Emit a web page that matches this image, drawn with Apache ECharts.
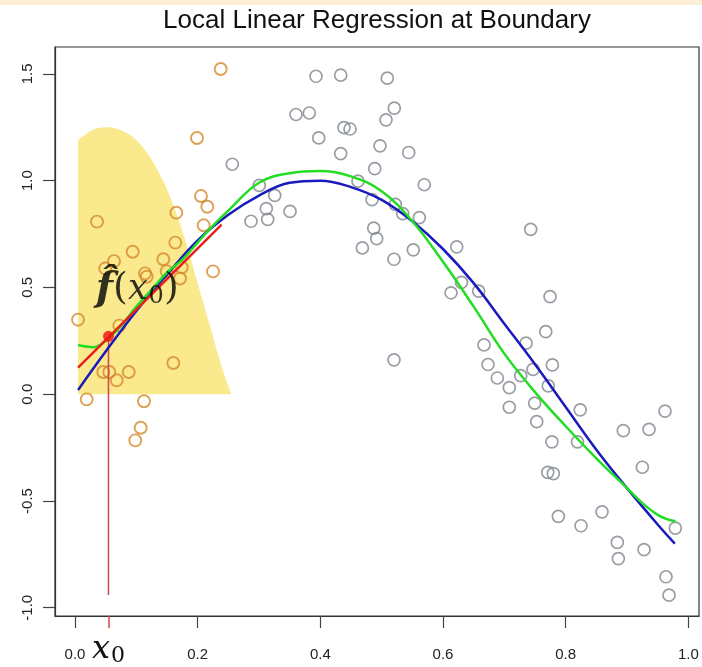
<!DOCTYPE html>
<html>
<head>
<meta charset="utf-8">
<title>Local Linear Regression at Boundary</title>
<script src="https://cdn.jsdelivr.net/npm/echarts@6/dist/echarts.min.js"></script>
<style>
html, body {margin: 0; padding: 0; background: #fff;}
#main {width: 702px; height: 667px;}
</style>
</head>
<body>
<div id="main"></div>
<script>
// points inside the kernel window (orange)
var windowX = [0.2376, 0.1989, 0.2054, 0.2157, 0.1652, 0.0359, 0.2098, 0.1635, 0.0941, 0.1440,
    0.0494, 0.0636, 0.1141, 0.1169, 0.1495, 0.1740, 0.1712, 0.2250, 0.0049, 0.0722,
    0.1603, 0.0461, 0.0559, 0.0680, 0.0876, 0.0191, 0.1125, 0.1071, 0.0983];
var windowY = [1.523, 1.200, 0.928, 0.878, 0.850, 0.808, 0.791, 0.710, 0.667, 0.632,
    0.589, 0.623, 0.566, 0.550, 0.575, 0.594, 0.542, 0.575, 0.349, 0.321,
    0.146, 0.104, 0.104, 0.065, 0.104, -0.024, -0.033, -0.157, -0.216];

// the rest of the sample (grey)
var otherX = [0.3930, 0.4332, 0.5092, 0.3603, 0.3820, 0.5206, 0.5071, 0.4386, 0.4484, 0.3974,
    0.4973, 0.4332, 0.5441, 0.2565, 0.4887, 0.5695, 0.3005, 0.4614, 0.3256, 0.3119,
    0.3142, 0.2870, 0.3506, 0.4843, 0.5223, 0.5343, 0.5614, 0.4871, 0.4919, 0.4685,
    0.5516, 0.5201, 0.7430, 0.6224, 0.6302, 0.6131, 0.6582, 0.7745, 0.7675, 0.6669,
    0.7354, 0.6734, 0.7468, 0.7783, 0.6886, 0.7267, 0.7081, 0.7717, 0.5201, 0.7081,
    0.7495, 0.8237, 0.9620, 0.7528, 0.8940, 0.9359, 0.7776, 0.8193, 0.9250, 0.7708,
    0.7799, 0.7881, 0.8250, 0.8593, 0.8842, 0.8859, 0.9278, 0.9788, 0.9636, 0.9685];
var otherY = [1.489, 1.494, 1.480, 1.310, 1.317, 1.340, 1.285, 1.248, 1.242, 1.200,
    1.163, 1.127, 1.132, 1.077, 1.056, 0.981, 0.978, 0.998, 0.931, 0.869,
    0.819, 0.810, 0.856, 0.911, 0.889, 0.846, 0.827, 0.778, 0.729, 0.685,
    0.676, 0.632, 0.772, 0.690, 0.524, 0.475, 0.483, 0.457, 0.293, 0.231,
    0.239, 0.139, 0.116, 0.137, 0.076, 0.087, 0.031, 0.039, 0.161, -0.061,
    -0.042, -0.073, -0.079, -0.128, -0.171, -0.165, -0.223, -0.223, -0.342, -0.366,
    -0.372, -0.572, -0.616, -0.551, -0.694, -0.770, -0.728, -0.627, -0.855, -0.941];

// true function (blue)
var trueX = [0.005, 0.05, 0.10, 0.15, 0.20, 0.25, 0.30, 0.35, 0.40, 0.45, 0.50,
    0.55, 0.60, 0.65, 0.70, 0.75, 0.80, 0.85, 0.90, 0.95, 0.978];
var trueY = [0.02, 0.20, 0.39, 0.56, 0.72, 0.84, 0.93, 0.99, 1.00, 0.97, 0.91,
    0.81, 0.68, 0.52, 0.33, 0.14, -0.06, -0.26, -0.44, -0.61, -0.70];

// local linear fit over the whole range (green)
var fitX = [0.005, 0.03, 0.05, 0.075, 0.10, 0.125, 0.15, 0.175, 0.20, 0.225, 0.25,
    0.30, 0.35, 0.40, 0.45, 0.50, 0.55, 0.60, 0.65, 0.70, 0.75,
    0.80, 0.85, 0.90, 0.925, 0.95, 0.965, 0.979];
var fitY = [0.23, 0.22, 0.25, 0.32, 0.41, 0.49, 0.57, 0.63, 0.71, 0.79, 0.86,
    0.99, 1.035, 1.045, 1.02, 0.95, 0.81, 0.62, 0.41, 0.19, 0.01,
    -0.15, -0.30, -0.44, -0.51, -0.565, -0.585, -0.595];

// kernel weights (yellow)
var kernelX = [0.005, 0.03, 0.055, 0.08, 0.10, 0.12, 0.14, 0.16, 0.18, 0.20, 0.22, 0.24, 0.255];
var kernelY = [1.19, 1.24, 1.25, 1.23, 1.19, 1.12, 1.02, 0.89, 0.72, 0.52, 0.32, 0.12, 0.0];

// weighted line at x0 (red)
var localLineX = [0.005, 0.239];
var localLineY = [0.125, 0.794];
var x0 = 0.0546;
var fx0 = 0.271;
var dropY = [0.271, -0.94];

var xTicks = [0, 0.2, 0.4, 0.6, 0.8, 1.0];
var yTicks = [-1.0, -0.5, 0, 0.5, 1.0, 1.5];

var xMin = -0.0326, xMax = 1.0174;
var yMin = -1.0387, yMax = 1.626;

function zip(xs, ys) {
    var out = [];
    for (var i = 0; i < xs.length; i++) {
        out.push([xs[i], ys[i]]);
    }
    return out;
}

var myChart = echarts.init(document.getElementById('main'), null, {renderer: 'canvas'});

var labelFont = 'Liberation Sans, Arial, sans-serif';
var mathFont = 'DejaVu Serif, Liberation Serif, serif';

var option = {
    animation: false,
    backgroundColor: '#fff',
    graphic: [
        {type: 'rect', left: 0, top: 0, shape: {width: 702, height: 5}, style: {fill: '#fcefd6'}},
        {type: 'text', x: 377, y: 21,
            style: {text: 'Local Linear Regression at Boundary', font: '26px ' + labelFont,
                fill: '#111', align: 'center', verticalAlign: 'middle',
                textAlign: 'center', textVerticalAlign: 'middle'}}
    ],
    grid: {left: 55, right: 3, top: 47, bottom: 49, show: true, borderColor: '#333', borderWidth: 1.2},
    xAxis: [
        {
            type: 'value', min: xMin, max: xMax,
            splitLine: {show: false},
            axisLine: {onZero: false, lineStyle: {color: '#333', width: 1.2}},
            axisTick: {customValues: xTicks, length: 12, lineStyle: {color: '#444', width: 1.2}},
            axisLabel: {customValues: xTicks, margin: 31, color: '#222', fontSize: 15, fontFamily: labelFont,
                formatter: function (v) { return v.toFixed(1); }}
        },
        {
            type: 'value', min: xMin, max: xMax, position: 'bottom',
            splitLine: {show: false},
            axisLine: {show: false, onZero: false},
            axisTick: {customValues: [x0], length: 12, lineStyle: {color: '#d04848', width: 1.5}},
            axisLabel: {customValues: [x0], margin: 17, color: '#111',
                formatter: function () { return '{x|x}{s|0}'; },
                rich: {
                    x: {fontFamily: mathFont, fontStyle: 'italic', fontSize: 32, color: '#111'},
                    s: {fontFamily: mathFont, fontSize: 22, color: '#111', padding: [12, 0, 0, 1]}
                }}
        }
    ],
    yAxis: {
        type: 'value', min: yMin, max: yMax,
        splitLine: {show: false},
        axisLine: {onZero: false, lineStyle: {color: '#333', width: 1.2}},
        axisTick: {customValues: yTicks, length: 12, lineStyle: {color: '#444', width: 1.2}},
        axisLabel: {customValues: yTicks, rotate: 90, margin: 20, color: '#222', fontSize: 15, fontFamily: labelFont,
            formatter: function (v) { return v.toFixed(1); }}
    },
    series: [
        {
            // kernel shading
            type: 'line', z: 1, silent: true, symbol: 'none',
            data: zip(kernelX, kernelY),
            smooth: 0.3,
            lineStyle: {width: 0, color: '#fbe98e'},
            areaStyle: {color: '#fbe98e', opacity: 1}
        },
        {
            type: 'scatter', z: 3, silent: true,
            data: zip(otherX, otherY),
            symbol: 'circle', symbolSize: 12,
            itemStyle: {color: 'rgba(0,0,0,0)', borderColor: '#7f868f', borderWidth: 1.7}
        },
        {
            type: 'scatter', z: 3, silent: true,
            data: zip(windowX, windowY),
            symbol: 'circle', symbolSize: 12,
            itemStyle: {color: 'rgba(0,0,0,0)', borderColor: '#d4892e', borderWidth: 1.9}
        },
        {
            // drop line from the fitted value to the axis
            type: 'line', z: 4, silent: true, symbol: 'none',
            data: [[x0, dropY[0]], [x0, dropY[1]]],
            lineStyle: {color: '#d04848', width: 1.5}
        },
        {
            type: 'line', z: 5, silent: true, symbol: 'none',
            data: zip(trueX, trueY), smooth: 0.4,
            lineStyle: {color: '#1a1abf', width: 2.5}
        },
        {
            type: 'line', z: 5, silent: true, symbol: 'none',
            data: zip(fitX, fitY), smooth: 0.4,
            lineStyle: {color: '#22dd22', width: 2.5}
        },
        {
            type: 'line', z: 6, silent: true, symbol: 'none',
            data: zip(localLineX, localLineY),
            lineStyle: {color: '#e8201c', width: 2.5}
        },
        {
            type: 'scatter', z: 7, silent: true,
            data: [[x0, fx0]],
            symbol: 'circle', symbolSize: 11,
            itemStyle: {color: '#ee1111'}
        },
        {
            // f-hat(x0) annotation
            type: 'scatter', z: 8, silent: true,
            data: [[0.034, 0.49]],
            symbolSize: 0,
            label: {
                show: true, position: 'right', distance: 0,
                formatter: function () { return '{f|f\u0302}{p|(}{x|x}{s|0}{p|)}'; },
                rich: {
                    f: {fontFamily: mathFont, fontStyle: 'italic', fontWeight: 'bold', fontSize: 40, color: '#000'},
                    p: {fontFamily: mathFont, fontSize: 38, color: '#000'},
                    x: {fontFamily: mathFont, fontStyle: 'italic', fontSize: 35, color: '#000'},
                    s: {fontFamily: mathFont, fontSize: 24, color: '#000', padding: [14, 0, 0, 1]}
                }
            }
        }
    ]
};
myChart.setOption(option);
</script>
</body>
</html>
